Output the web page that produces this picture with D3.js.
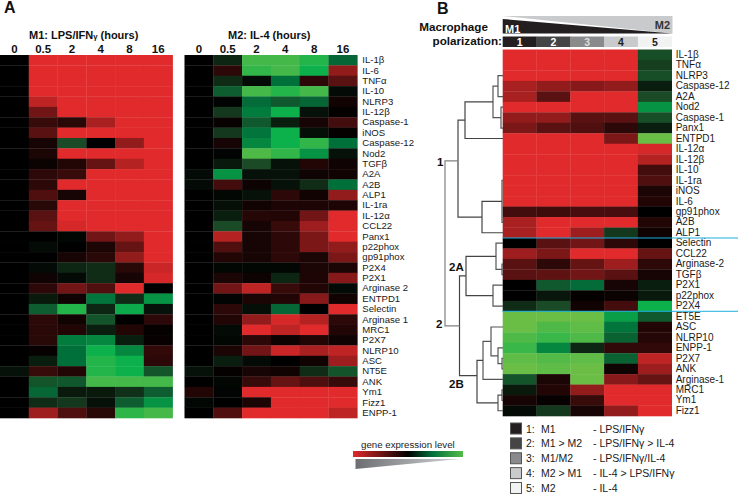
<!DOCTYPE html>
<html>
<head>
<meta charset="utf-8" />
<script src="https://d3js.org/d3.v7.min.js"></script>
<style>
    body { margin: 0; background: #fff; }
    svg { display: block; font-family: "Liberation Sans", Arial, sans-serif; }
    .domain { display: none; }
    .axis text { font-size: 10px; fill: #1a1a1a; font-family: "Liberation Sans", Arial, sans-serif; }
    .axisA text { font-size: 9.6px; }
    .hours text { font-size: 11.5px; font-weight: bold; fill: #111; }
</style>
</head>
<body>
<svg id="chart" width="738" height="494"></svg>
<script>
    // time points of panel A
    const hours = ["0", "0.5", "2", "4", "8", "16"];

    const genesA = ["IL-1β", "IL-6", "TNFα", "IL-10", "NLRP3", "IL-12β", "Caspase-1", "iNOS", "Caspase-12", "Nod2",
        "TGFβ", "A2A", "A2B", "ALP1", "IL-1ra", "IL-12α", "CCL22", "Panx1", "p22phox", "gp91phox", "P2X4", "P2X1",
        "Arginase 2", "ENTPD1", "Selectin", "Arginase 1", "MRC1", "P2X7", "NLRP10", "ASC", "NT5E", "ANK", "Ym1",
        "Fizz1", "ENPP-1"];

    // expression level: 1 red, 0 black, negative green
    const m1Values = [
        [0, 1, 1, 1, 1, 1], [0, 1, 1, 1, 1, 1], [0, 1, 1, 1, 1, 1], [0, 1, 1, 1, 1, 1],
        [0, .85, 1, 1, 1, 1], [0, .5, 1, 1, 1, 1], [0, .25, .18, .75, 1, 1], [0, .4, 1, 1, 1, 1],
        [0, .1, -.2, 0, .65, 1], [0, .12, 1, 1, 1, 1], [0, .05, .15, .45, .8, 1], [0, .2, .25, 1, 1, 1],
        [0, .2, 1, 1, 1, 1], [0, .35, .1, 1, 1, 1], [0, .18, 1, 1, 1, 1], [0, .4, 1, 1, 1, 1],
        [0, .45, .95, 1, 1, 1], [0, 0, -.02, .5, .65, 1], [0, -.03, 0, .12, .45, 1], [0, 0, .1, .18, .65, 1],
        [0, -.03, -.1, -.12, .18, .9], [0, .07, -.03, -.12, .1, .95], [0, .2, .5, .35, 1, 0],
        [0, -.07, .07, -.42, -.12, -.55], [0, -.3, -.72, -.1, -.65, -.05], [0, .2, .08, -.25, 0, .2],
        [0, .18, .15, -.08, .15, .02], [0, .18, -.45, -.5, -.08, .03], [0, .03, -.4, -.68, -.5, .22],
        [0, -.08, -.4, -.72, -.68, .2], [-.05, .25, .15, -.72, -.68, -.25], [0, -.25, -.27, -.78, -.78, -.78],
        [0, -.35, -.07, -.07, -.13, -.3], [0, -.12, -.15, -.05, -.3, -.55], [0, .7, .35, .18, -.74, -.78]
    ];

    const m2Values = [
        [0, -.1, -.78, -.78, -.72, -.35], [0, .2, -.75, -.78, -.68, .65], [0, -.12, -.03, -.4, .2, .4],
        [0, -.3, -.78, -.72, -.78, -.03], [0, -.01, -.38, -.28, -.35, .08], [0, -.15, -.45, -.68, -.05, .02],
        [0, .04, -.28, -.08, .1, .3], [0, -.15, -.42, -.68, -.04, .02], [0, .1, -.5, -.68, -.75, -.4],
        [0, -.01, -.8, -.75, -.55, -.05], [0, -.07, -.2, -.05, .15, .07], [-.03, -.55, -.05, -.05, .07, .08],
        [-.03, .3, .06, -.05, -.12, -.4], [0, -.02, -.05, .2, .08, .65], [0, -.04, .08, .13, .13, .13],
        [0, -.08, .17, .15, .5, 1], [0, -.2, .1, .25, .7, 1], [0, .8, .1, .2, .55, 1], [0, .35, .1, .2, .55, .65],
        [0, .15, .1, .2, .12, .55], [0, -.02, -.02, -.02, .12, .12], [0, .12, .06, -.1, .13, .6],
        [0, .5, .85, .25, .15, -.03], [0, -.01, .12, .15, .6, .08], [0, .2, -.04, -.35, 0, 1],
        [0, .15, .65, .95, .8, .2], [0, -.03, 1, .85, 1, .15], [0, -.02, .2, .06, .15, .07],
        [0, .12, .5, .9, .75, .85], [0, -.08, -.03, 0, .08, .7], [-.05, .02, .1, .08, -.12, -.25],
        [0, -.02, .25, .45, .35, .25], [.15, -.01, 1, 1, 1, 1], [-.02, 0, .12, 1, 1, 1], [0, .35, 1, 1, 1, .85]
    ];

    const groupsB = ["1", "2", "3", "4", "5"];
    const groupFills = ["#231f20", "#454545", "#8a8a8c", "#c9cacc", "#f1f2f2"];
    const groupTextFills = ["#fff", "#fff", "#ddd", "#222", "#222"];

    const genesB = ["IL-1β", "TNFα", "NLRP3", "Caspase-12", "A2A", "Nod2", "Caspase-1", "Panx1", "ENTPD1", "IL-12α",
        "IL-12β", "IL-10", "IL-1ra", "iNOS", "IL-6", "gp91phox", "A2B", "ALP1", "Selectin", "CCL22", "Arginase-2",
        "TGFβ", "P2X1", "p22phox", "P2X4", "ET5E", "ASC", "NLRP10", "ENPP-1", "P2X7", "ANK", "Arginase-1", "MRC1",
        "Ym1", "Fizz1"];

    const bValues = [
        [1, 1, 1, 1, -.22], [1, 1, 1, 1, -.17], [1, 1, 1, 1, -.22], [.75, .65, .6, .65, -.08], [.75, .4, 1, 1, -.2],
        [1, 1, 1, 1, -.55], [.65, .65, .4, .4, -.22], [.55, .4, .35, .2, -.08], [1, 1, 1, .55, -.85],
        [1, 1, 1, 1, .95], [1, 1, 1, 1, .8], [1, 1, 1, 1, .3], [1, 1, 1, 1, .35], [1, 1, 1, 1, .12], [1, 1, 1, 1, .15],
        [.3, .28, .32, .32, 0], [.75, 1, 1, 1, .15], [.75, 1, .7, -.15, .08], [0, .4, .5, .2, 0],
        [.7, .55, 1, 1, .45], [.4, .2, .45, .7, .2], [.4, .42, .5, .4, .1], [0, -.28, -.38, .1, -.08],
        [0, -.06, .02, .05, -.07], [-.12, -.2, .08, .3, -.68], [-.85, -.85, -.85, -.6, -.28], [-.85, -.8, -.83, -.42, .15],
        [-.8, -.76, -.8, -.32, .17], [-.76, -.5, -.1, .22, .22], [-.83, -.81, -.83, -.32, .85],
        [-.85, -.83, -.85, .07, .7], [-.25, .12, -.85, .6, .45], [-.07, .15, .65, 1, 1], [.1, .03, .25, 1, 1],
        [-.03, -.15, .1, .65, 1]
    ];

    // dendrogram of panel B: [distance, child, child, split]; a number child is a row of genesB
    const dendrogram = [58, [45,
        [38, [10, [5, 2, 4], [2, 5, 7]], 8],
        [21, [1, 12, 16], 17], .42],
        [43.5,
            [37, [7, 18, [1, 20, 21]], [10, 22, 24]],
            [26, [20, [12, 26, [5, 28, [1, 29, 30]]], 31], [5, [1, 32, 33], 34], .36]]];

    const legendKeys = ["1:", "2:", "3:", "4:", "5:"];
    const legendStates = ["M1", "M1 > M2", "M1/M2", "M2 > M1", "M2"];
    const legendTreatments = ["- LPS/IFNγ", "- LPS/IFNγ > IL-4", "- LPS/IFNγ/IL-4", "- IL-4 > LPS/IFNγ", "- IL-4"];

    const svg = d3.select("#chart");

    const color = d3.scaleLinear()
        .domain([-.85, -.68, -.4, -.2, 0, 1])
        .range(["#6abd45", "#0db14c", "#00703a", "#1a4a26", "#000000", "#e12a2b"])
        .clamp(true);

    // heatmap cells, returns nothing, the caller does the labels
    function heatmap(values, colScale, rowScale, rows) {
        const g = svg.append("g");
        const row = g.selectAll("g").data(values).enter().append("g")
            .attr("transform", (d, i) => "translate(0," + rowScale(rows[i]) + ")");
        row.selectAll("rect").data(d => d).enter().append("rect")
            .attr("x", (d, i) => colScale(colScale.domain()[i]))
            .attr("width", colScale.bandwidth() + .3)
            .attr("height", rowScale.bandwidth() + .3)
            .attr("fill", d => color(d));
    }

    // panel A
    const rowA = d3.scaleBand().domain(genesA).range([55, 418]);
    const colM1 = d3.scaleBand().domain(hours).range([0, 172.6]);
    const colM2 = d3.scaleBand().domain(hours).range([184.5, 357.3]);
    heatmap(m1Values, colM1, rowA, genesA);
    heatmap(m2Values, colM2, rowA, genesA);

    svg.append("g").attr("class", "axis hours").attr("transform", "translate(0,54)")
        .call(d3.axisTop(colM1).tickSize(0).tickPadding(1));
    svg.append("g").attr("class", "axis hours").attr("transform", "translate(0,54)")
        .call(d3.axisTop(colM2).tickSize(0).tickPadding(1));
    svg.append("g").attr("class", "axis axisA").attr("transform", "translate(357.3,0)")
        .call(d3.axisRight(rowA).tickSize(0).tickPadding(5));

    function title(x, y, size, parts, anchor) {
        const t = svg.append("text").attr("x", x).attr("y", y).attr("text-anchor", anchor || "start")
            .attr("font-size", size).attr("font-weight", "bold").attr("fill", "#111");
        parts.forEach(p => t.append("tspan").attr("font-size", p.small ? size * .7 : size).text(p.text));
        return t;
    }
    title(4, 13, 16, [{text: "A"}]);
    title(437, 14, 16, [{text: "B"}]);
    title(29, 39, 11, [{text: "M1: LPS/IFN"}, {text: "γ", small: true}, {text: " (hours)"}]);
    title(228, 39, 11, [{text: "M2: IL-4 (hours)"}]);

    // panel B
    const rowB = d3.scaleBand().domain(genesB).range([49.5, 416]);
    const colB = d3.scaleBand().domain(groupsB).range([502.7, 671.7]);
    heatmap(bValues, colB, rowB, genesB);
    svg.append("g").attr("class", "axis").attr("transform", "translate(671.7,0)")
        .call(d3.axisRight(rowB).tickSize(0).tickPadding(4));

    // M1 -> M2 wedge
    const wedgeX = d3.scaleLinear().domain([0, 1]).range([502.7, 672.5]);
    svg.append("polygon").attr("fill", "#c9cacc")
        .attr("points", [[0, 16], [1, 16], [1, 33.5]].map(p => wedgeX(p[0]) + "," + p[1]).join(" "));
    svg.append("polygon").attr("fill", "#231f20")
        .attr("points", [[0, 19], [1, 33.5], [0, 33.5]].map(p => wedgeX(p[0]) + "," + p[1]).join(" "));
    title(505, 32.5, 11, [{text: "M1"}]).attr("fill", "#fff");
    title(670, 28.5, 11, [{text: "M2"}], "end").attr("fill", "#333");
    title(488, 31, 11.7, [{text: "Macrophage"}], "end");
    title(502, 45, 11.7, [{text: "polarization:"}], "end");

    svg.append("g").selectAll("rect").data(groupsB).enter().append("rect")
        .attr("x", d => colB(d)).attr("y", 36.5)
        .attr("width", colB.bandwidth() + .3).attr("height", 10.5)
        .attr("fill", (d, i) => groupFills[i]);
    svg.append("g").selectAll("text").data(groupsB).enter().append("text")
        .attr("x", d => colB(d) + colB.bandwidth() / 2).attr("y", 46)
        .attr("text-anchor", "middle").attr("font-size", 10.5).attr("font-weight", "bold")
        .attr("fill", (d, i) => groupTextFills[i]).text(d => d);

    // dendrogram, node height is the split between its two children
    const distX = d3.scaleLinear().domain([0, 58]).range([503, 445]);
    const dendroG = svg.append("g").attr("fill", "none").attr("stroke-width", 1.2);
    function drawNode(node, depth) {
        if (typeof node === "number") return {x: distX(0), y: rowB(genesB[node]) + rowB.bandwidth() / 2};
        const a = drawNode(node[1], depth + 1), b = drawNode(node[2], depth + 1);
        const x = distX(node[0]);
        dendroG.append("path")
            .attr("d", "M" + a.x + "," + a.y + "H" + x + "V" + b.y + "H" + b.x)
            .attr("stroke", depth === 0 ? "#808080" : depth < 3 ? "#444" : "#555");
        return {x: x, y: a.y + (b.y - a.y) * (node[3] === undefined ? .5 : node[3])};
    }
    const rootNode = drawNode(dendrogram, 0);

    title(437, 166, 11.5, [{text: "1"}]);
    title(436, 328, 11.5, [{text: "2"}]);
    title(449, 271, 11.5, [{text: "2A"}]);
    title(449, 388, 11.5, [{text: "2B"}]);

    // blue separators between clusters
    [genesB[17], genesB[24]].forEach(g => {
        const y = rowB(g) + rowB.bandwidth();
        svg.append("line").attr("x1", 502.7).attr("x2", 738).attr("y1", y).attr("y2", y)
            .attr("stroke", "#1cafe0").attr("stroke-width", 1);
    });

    // legend of the five groups
    const legendY = d3.scalePoint().domain(legendKeys).range([428.5, 488]);
    const legend = svg.append("g").selectAll("g").data(legendKeys).enter().append("g")
        .attr("transform", d => "translate(0," + legendY(d) + ")");
    legend.append("rect").attr("x", 510.5).attr("y", -5.5).attr("width", 11).attr("height", 11)
        .attr("fill", (d, i) => groupFills[i]).attr("stroke", "#555").attr("stroke-width", 1);
    const legendText = legend.append("g").attr("font-size", 10.5).attr("fill", "#1a1a1a");
    legendText.append("text").attr("x", 526).attr("y", 4).text(d => d);
    legendText.append("text").attr("x", 541).attr("y", 4).text((d, i) => legendStates[i]);
    legendText.append("text").attr("x", 593).attr("y", 4).text((d, i) => legendTreatments[i]);

    // colour key
    const defs = svg.append("defs");
    const keyGrad = defs.append("linearGradient").attr("id", "keyGrad");
    keyGrad.selectAll("stop").data([[0, "#e12a2b"], [.5, "#000"], [.72, "#00703a"], [1, "#54bc4a"]]).enter()
        .append("stop").attr("offset", d => d[0]).attr("stop-color", d => d[1]);
    const greyGrad = defs.append("linearGradient").attr("id", "greyGrad");
    greyGrad.selectAll("stop").data([[0, "#6d6e71"], [1, "#d4d5d7"]]).enter()
        .append("stop").attr("offset", d => d[0]).attr("stop-color", d => d[1]);
    svg.append("text").attr("x", 361).attr("y", 448).attr("font-size", 9.7).attr("fill", "#1a1a1a")
        .text("gene expression level");
    svg.append("rect").attr("x", 353).attr("y", 451).attr("width", 110).attr("height", 6)
        .attr("fill", "url(#keyGrad)");
    svg.append("polygon").attr("points", "355.5,459 460,459 355.5,469").attr("fill", "url(#greyGrad)");
</script>
</body>
</html>
